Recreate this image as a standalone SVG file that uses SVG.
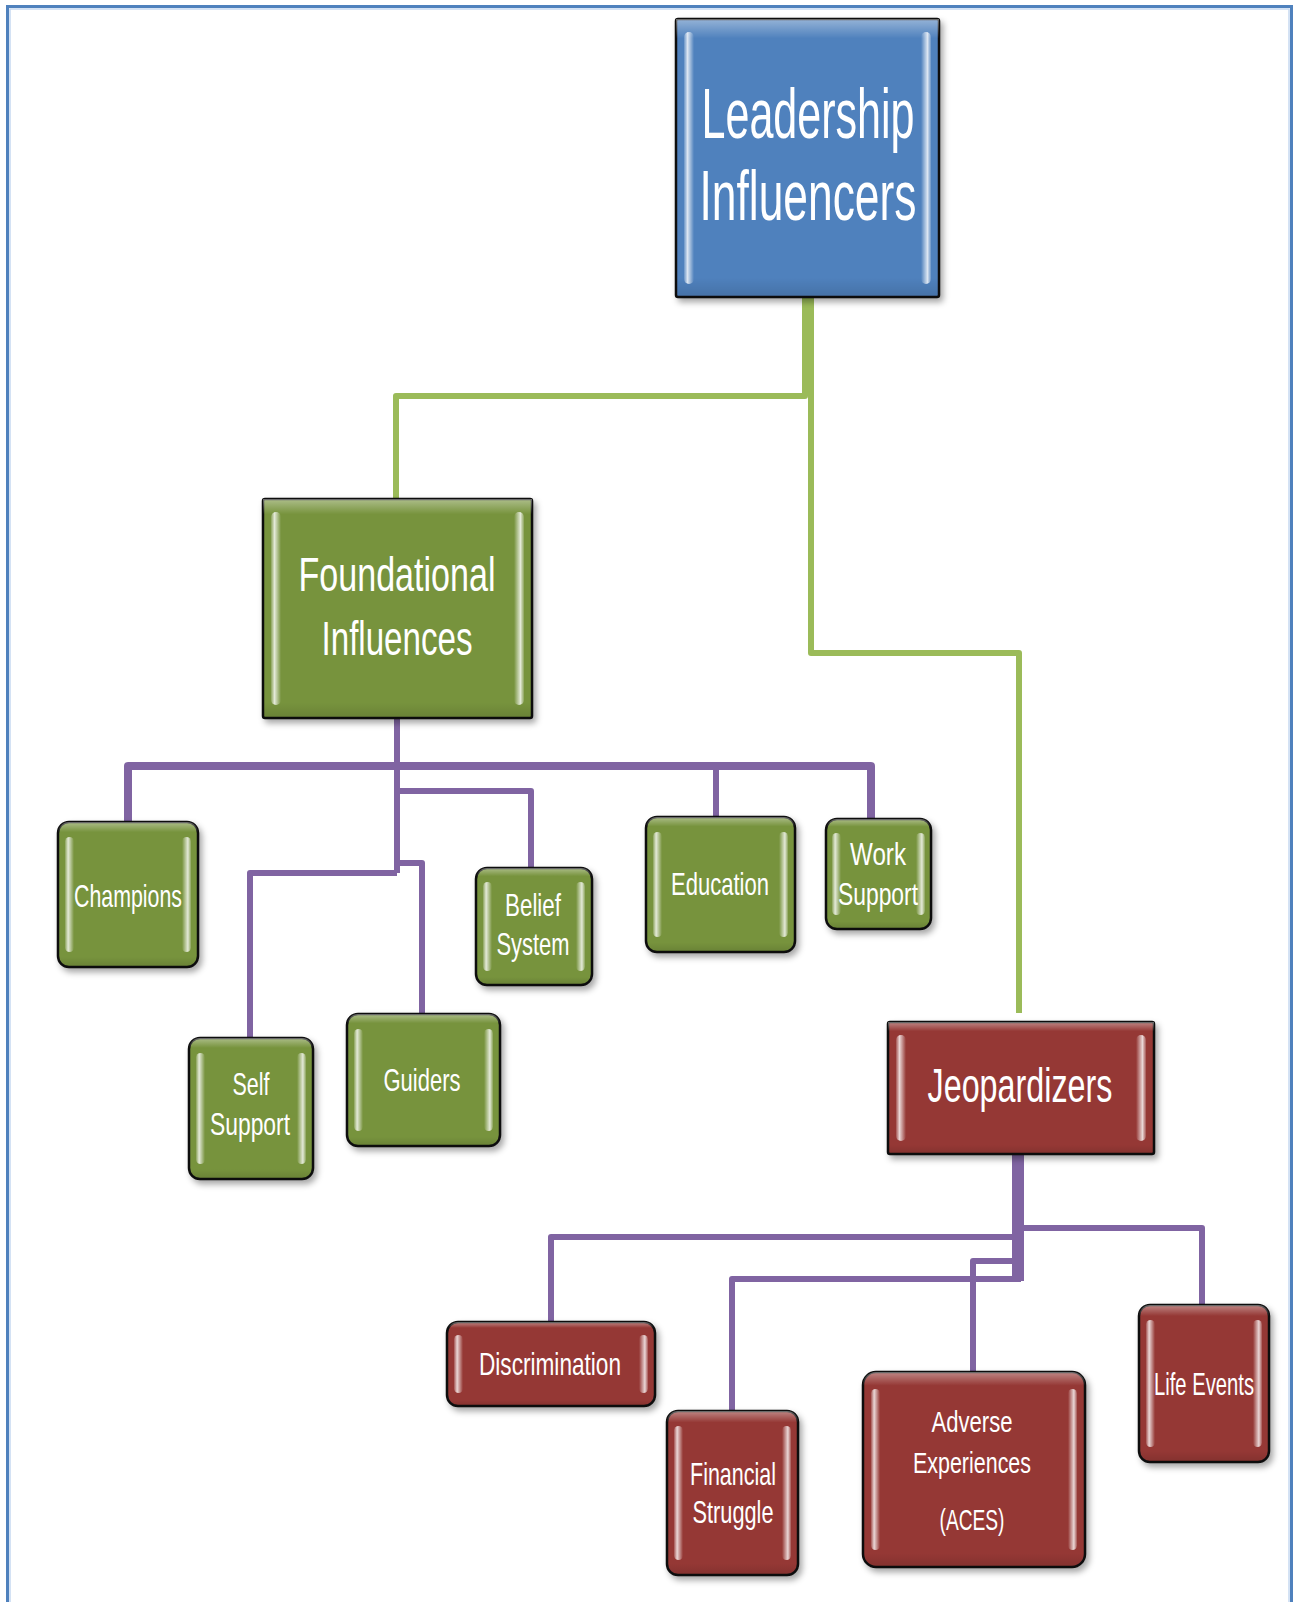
<svg xmlns="http://www.w3.org/2000/svg" width="1294" height="1602" viewBox="0 0 1294 1602">
<style>
.frame{fill:none;stroke:#4F81BD;stroke-width:3}
.frame2{fill:none;stroke:#C6D9F1;stroke-width:1.5}
.box{stroke:#111;stroke-width:2.5;filter:url(#sh)}
.blue{fill:#4F81BD}
.green{fill:#77933C}
.red{fill:#953735}
.gl{fill:url(#gloss);stroke:none}
.lbl{font-family:"Liberation Sans Narrow","Liberation Sans",Arial,sans-serif;fill:#fff;text-anchor:middle}
.big{font-size:70px}
.mid{font-size:48px}
.sm{font-size:32px}
.xs{font-size:30px}
.cg{fill:none;stroke:#9BBB59;stroke-width:6;stroke-linejoin:round}
.cp{fill:none;stroke:#8064A2;stroke-width:6;stroke-linejoin:round}
</style>
<defs>
<filter id="sh" x="-10%" y="-10%" width="125%" height="125%">
<feDropShadow dx="3" dy="4" stdDeviation="3" flood-color="#000" flood-opacity="0.35"/>
</filter>
<linearGradient id="gloss" x1="0" y1="0" x2="0" y2="1">
<stop offset="0" stop-color="#fff" stop-opacity="0.4"/>
<stop offset="0.07" stop-color="#fff" stop-opacity="0"/>
<stop offset="0.93" stop-color="#000" stop-opacity="0"/>
<stop offset="1" stop-color="#000" stop-opacity="0.12"/>
</linearGradient>
<linearGradient id="bL" x1="0" y1="0" x2="1" y2="0">
<stop offset="0" stop-color="#fff" stop-opacity="0.15"/>
<stop offset="0.35" stop-color="#fff" stop-opacity="0.8"/>
<stop offset="1" stop-color="#fff" stop-opacity="0"/>
</linearGradient>
<linearGradient id="bR" x1="1" y1="0" x2="0" y2="0">
<stop offset="0" stop-color="#fff" stop-opacity="0.15"/>
<stop offset="0.35" stop-color="#fff" stop-opacity="0.8"/>
<stop offset="1" stop-color="#fff" stop-opacity="0"/>
</linearGradient>
</defs>
<rect width="1294" height="1602" fill="#fff"/>
<rect class="frame" x="7.5" y="6.5" width="1284" height="1610"/>
<rect class="frame2" x="10" y="9" width="1279" height="1605"/>

<g id="connectors">
<path class="cg" d="M805 297 V396 H396 V499"/>
<path class="cg" d="M811 297 V653 H1019 V1013"/>
<path class="cp" d="M397 718 V873"/>
<path class="cp" style="stroke-width:8" d="M128 822 V766 H871 V819"/>
<path class="cp" d="M716 766 V817"/>
<path class="cp" d="M397 791 H531 V868"/>
<path class="cp" d="M397 873 H250 V1038"/>
<path class="cp" d="M397 863 H422 V1014"/>
<path class="cp" d="M1015 1154 V1281"/>
<path class="cp" d="M1021 1154 V1281"/>
<path class="cp" d="M1018 1237 H551 V1322"/>
<path class="cp" d="M1018 1228 H1202 V1305"/>
<path class="cp" d="M1021 1261 H973 V1372"/>
<path class="cp" d="M1021 1279 H732 V1411"/>
</g>

<g id="n-leadership">
<rect class="box blue" x="676" y="19" width="263" height="278" rx="2"/>
<rect class="gl" x="676" y="19" width="263" height="278"/>
<rect x="684" y="32" width="10" height="252" rx="5" fill="url(#bL)"/>
<rect x="921" y="32" width="10" height="252" rx="5" fill="url(#bR)"/>
<text class="lbl big" x="808" y="138" textLength="213" lengthAdjust="spacingAndGlyphs">Leadership</text>
<text class="lbl big" x="808" y="220" textLength="217" lengthAdjust="spacingAndGlyphs">Influencers</text>
</g>

<g id="n-foundational">
<rect class="box green" x="263" y="499" width="269" height="219" rx="2"/>
<rect class="gl" x="263" y="499" width="269" height="219"/>
<rect x="271" y="512" width="10" height="193" rx="5" fill="url(#bL)"/>
<rect x="514" y="512" width="10" height="193" rx="5" fill="url(#bR)"/>
<text class="lbl mid" x="397" y="591" textLength="197" lengthAdjust="spacingAndGlyphs">Foundational</text>
<text class="lbl mid" x="397" y="655" textLength="151" lengthAdjust="spacingAndGlyphs">Influences</text>
</g>

<g id="n-jeopardizers">
<rect class="box red" x="888" y="1022" width="266" height="132" rx="2"/>
<rect class="gl" x="888" y="1022" width="266" height="132"/>
<rect x="896" y="1035" width="10" height="106" rx="5" fill="url(#bL)"/>
<rect x="1136" y="1035" width="10" height="106" rx="5" fill="url(#bR)"/>
<text class="lbl mid" x="1020" y="1102" textLength="185" lengthAdjust="spacingAndGlyphs">Jeopardizers</text>
</g>

<g id="n-champions">
<rect class="box green" x="58" y="822" width="140" height="145" rx="11"/>
<rect class="gl" x="58" y="822" width="140" height="145" rx="11"/>
<rect x="65" y="837" width="9" height="115" rx="4.5" fill="url(#bL)"/>
<rect x="182" y="837" width="9" height="115" rx="4.5" fill="url(#bR)"/>
<text class="lbl sm" x="128" y="907" textLength="108" lengthAdjust="spacingAndGlyphs">Champions</text>
</g>

<g id="n-selfsupport">
<rect class="box green" x="189" y="1038" width="124" height="141" rx="11"/>
<rect class="gl" x="189" y="1038" width="124" height="141" rx="11"/>
<rect x="196" y="1053" width="9" height="111" rx="4.5" fill="url(#bL)"/>
<rect x="297" y="1053" width="9" height="111" rx="4.5" fill="url(#bR)"/>
<text class="lbl sm" x="251" y="1095" textLength="37" lengthAdjust="spacingAndGlyphs">Self</text>
<text class="lbl sm" x="250" y="1135" textLength="80" lengthAdjust="spacingAndGlyphs">Support</text>
</g>

<g id="n-guiders">
<rect class="box green" x="347" y="1014" width="153" height="132" rx="11"/>
<rect class="gl" x="347" y="1014" width="153" height="132" rx="11"/>
<rect x="354" y="1029" width="9" height="102" rx="4.5" fill="url(#bL)"/>
<rect x="484" y="1029" width="9" height="102" rx="4.5" fill="url(#bR)"/>
<text class="lbl sm" x="422" y="1091" textLength="77" lengthAdjust="spacingAndGlyphs">Guiders</text>
</g>

<g id="n-belief">
<rect class="box green" x="476" y="868" width="116" height="117" rx="11"/>
<rect class="gl" x="476" y="868" width="116" height="117" rx="11"/>
<rect x="483" y="882" width="9" height="89" rx="4.5" fill="url(#bL)"/>
<rect x="576" y="882" width="9" height="89" rx="4.5" fill="url(#bR)"/>
<text class="lbl sm" x="533" y="916" textLength="56" lengthAdjust="spacingAndGlyphs">Belief</text>
<text class="lbl sm" x="533" y="955" textLength="73" lengthAdjust="spacingAndGlyphs">System</text>
</g>

<g id="n-education">
<rect class="box green" x="646" y="817" width="149" height="135" rx="11"/>
<rect class="gl" x="646" y="817" width="149" height="135" rx="11"/>
<rect x="653" y="832" width="9" height="105" rx="4.5" fill="url(#bL)"/>
<rect x="779" y="832" width="9" height="105" rx="4.5" fill="url(#bR)"/>
<text class="lbl sm" x="720" y="895" textLength="98" lengthAdjust="spacingAndGlyphs">Education</text>
</g>

<g id="n-worksupport">
<rect class="box green" x="826" y="819" width="105" height="110" rx="11"/>
<rect class="gl" x="826" y="819" width="105" height="110" rx="11"/>
<rect x="832" y="833" width="9" height="82" rx="4.5" fill="url(#bL)"/>
<rect x="916" y="833" width="9" height="82" rx="4.5" fill="url(#bR)"/>
<text class="lbl sm" x="878" y="865" textLength="56" lengthAdjust="spacingAndGlyphs">Work</text>
<text class="lbl sm" x="878" y="905" textLength="80" lengthAdjust="spacingAndGlyphs">Support</text>
</g>

<g id="n-discrimination">
<rect class="box red" x="447" y="1322" width="208" height="84" rx="11"/>
<rect class="gl" x="447" y="1322" width="208" height="84" rx="11"/>
<rect x="454" y="1335" width="9" height="58" rx="4.5" fill="url(#bL)"/>
<rect x="639" y="1335" width="9" height="58" rx="4.5" fill="url(#bR)"/>
<text class="lbl sm" x="550" y="1375" textLength="142" lengthAdjust="spacingAndGlyphs">Discrimination</text>
</g>

<g id="n-financial">
<rect class="box red" x="667" y="1411" width="131" height="164" rx="11"/>
<rect class="gl" x="667" y="1411" width="131" height="164" rx="11"/>
<rect x="674" y="1426" width="9" height="134" rx="4.5" fill="url(#bL)"/>
<rect x="782" y="1426" width="9" height="134" rx="4.5" fill="url(#bR)"/>
<text class="lbl sm" x="733" y="1485" textLength="86" lengthAdjust="spacingAndGlyphs">Financial</text>
<text class="lbl sm" x="733" y="1523" textLength="81" lengthAdjust="spacingAndGlyphs">Struggle</text>
</g>

<g id="n-aces">
<rect class="box red" x="863" y="1372" width="222" height="195" rx="13"/>
<rect class="gl" x="863" y="1372" width="222" height="195" rx="13"/>
<rect x="871" y="1389" width="9" height="161" rx="4.5" fill="url(#bL)"/>
<rect x="1068" y="1389" width="9" height="161" rx="4.5" fill="url(#bR)"/>
<text class="lbl xs" x="972" y="1432" textLength="81" lengthAdjust="spacingAndGlyphs">Adverse</text>
<text class="lbl xs" x="972" y="1473" textLength="118" lengthAdjust="spacingAndGlyphs">Experiences</text>
<text class="lbl xs" x="972" y="1530" textLength="65" lengthAdjust="spacingAndGlyphs">(ACES)</text>
</g>

<g id="n-lifeevents">
<rect class="box red" x="1139" y="1305" width="130" height="157" rx="11"/>
<rect class="gl" x="1139" y="1305" width="130" height="157" rx="11"/>
<rect x="1146" y="1320" width="9" height="127" rx="4.5" fill="url(#bL)"/>
<rect x="1253" y="1320" width="9" height="127" rx="4.5" fill="url(#bR)"/>
<text class="lbl sm" x="1204" y="1395" textLength="100" lengthAdjust="spacingAndGlyphs">Life Events</text>
</g>
</svg>
